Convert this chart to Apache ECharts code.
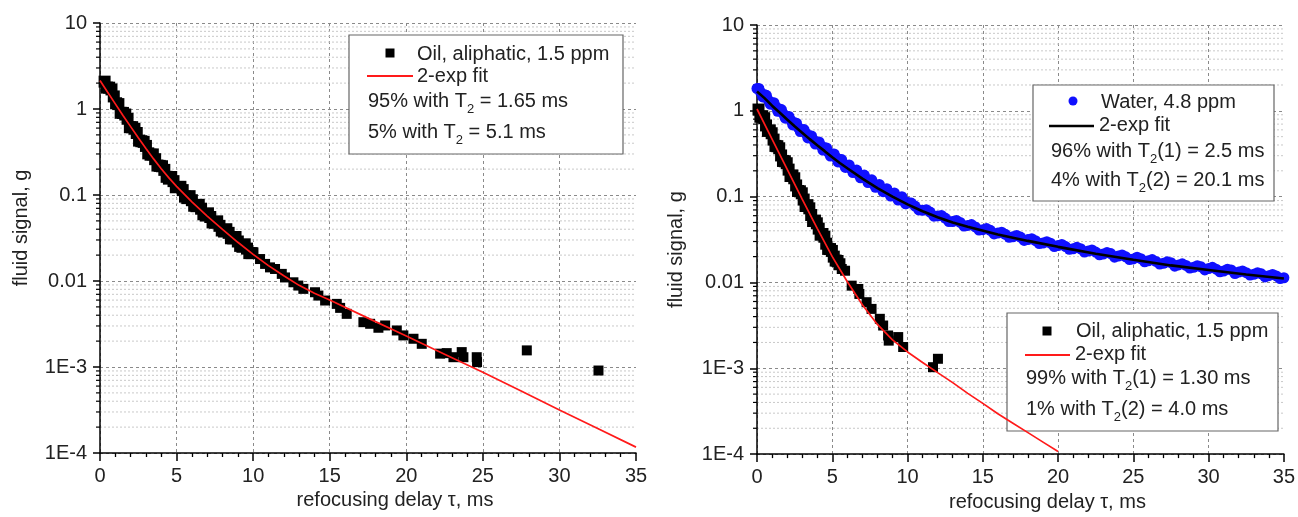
<!DOCTYPE html>
<html><head><meta charset="utf-8">
<script src="https://cdn.jsdelivr.net/npm/echarts@6/dist/echarts.min.js"></script>
<style>html,body{margin:0;padding:0;background:#fff}#c{width:1298px;height:517px}</style>
</head><body><div id="c"></div><script>
const FONT = "'Liberation Sans', Arial, Helvetica, sans-serif";
const TXT = '#222';
const FS = 20;

// ---- tick labels ----
const yTickLabels = ['1E-4', '1E-3', '0.01', '0.1', '1', '10'];
const yMinorTicks = [2e-4,3e-4,4e-4,5e-4,6e-4,7e-4,8e-4,9e-4,
  2e-3,3e-3,4e-3,5e-3,6e-3,7e-3,8e-3,9e-3,
  0.02,0.03,0.04,0.05,0.06,0.07,0.08,0.09,
  0.2,0.3,0.4,0.5,0.6,0.7,0.8,0.9,
  2,3,4,5,6,7,8,9];

// ---- left panel: oil, aliphatic 1.5 ppm ----
const leftOilA = [[0.3,2.08],[0.6,1.77],[0.9,1.40],[1.2,1.14],[1.5,0.90],[1.8,0.77],[2.1,0.615],[2.4,0.526],
  [2.7,0.422],[3.0,0.372],[3.3,0.294],[3.6,0.261],[3.9,0.218],[4.2,0.196],[4.5,0.155],[4.8,0.145],[5.1,0.124],
  [5.4,0.114],[5.7,0.092],[6.0,0.087],[6.3,0.0741],[6.6,0.0693],[6.9,0.0577],[7.2,0.0555],[7.5,0.0476],
  [7.8,0.0438],[8.1,0.0376],[8.4,0.0363],[8.7,0.0313],[9.0,0.0288],[9.3,0.025],[9.6,0.0238],[9.9,0.0211]];
const leftOilB = [[0.45,1.773],[0.75,1.689],[1.05,1.166],[1.35,0.903],[1.65,0.863],[1.95,0.614],[2.25,0.589],
  [2.55,0.429],[2.85,0.4145],[3.15,0.305],[3.45,0.2965],[3.75,0.220],[4.05,0.216],[4.35,0.1627],[4.65,0.162],
  [4.95,0.123],[5.25,0.1245],[5.55,0.0957],[5.85,0.0970],[6.15,0.0750],[6.45,0.0769],[6.75,0.0597],[7.05,0.0612],
  [7.35,0.0480],[7.65,0.0494],[7.95,0.0387],[8.25,0.0400],[8.55,0.0314],[8.85,0.0325],[9.15,0.0256],[9.45,0.0267],
  [9.75,0.0211]];
const leftOilC = [[10.02,0.0215],[10.45,0.0180],[10.78,0.0158],[11.10,0.0144],[11.43,0.0138],[11.87,0.0121],[12.08,0.0110],
  [12.63,0.00966],[12.95,0.00885],[13.28,0.0081],[14.04,0.0074],[14.26,0.00677],[14.70,0.00593],[15.46,0.00542],
  [15.68,0.00487],[16.11,0.00415],[17.20,0.00332],[17.64,0.00318],[18.18,0.00286],[18.62,0.00304],[19.38,0.00266],
  [19.81,0.00233],[20.47,0.00213],[21.01,0.00186],[22.21,0.00143],[22.64,0.00145],[23.08,0.0013],[23.62,0.00149],
  [23.73,0.0013],[24.60,0.0013],[24.62,0.00114],[27.87,0.00156],[32.55,0.00091]];
const leftFit = [[0,2.14],[0.5,1.567],[1,1.148],[1.5,0.841],[2,0.624],[2.5,0.462],[3,0.347],[3.5,0.263],[4,0.202],
  [4.5,0.158],[5,0.126],[6,0.0832],[7,0.0569],[8,0.0398],[9,0.0282],[10,0.0204],[11,0.0151],[12,0.0115],[13,0.0089],
  [14,0.0072],[15,0.0060],[17.5,0.0037],[20,0.00229],[22.5,0.00141],[25,0.00087],[27.5,0.000525],[30,0.000316],
  [32.5,0.000193],[35,0.000117]];

// ---- right panel: water 4.8 ppm ----
const waterA = [[0,1.82],[0.25,1.64],[0.5,1.54],[0.75,1.33],[1,1.245],[1.25,1.122],[1.5,1.047],[1.75,0.923],[2,0.861],
  [2.25,0.776],[2.5,0.724],[2.75,0.634],[3,0.603],[3.25,0.546],[3.5,0.513],[3.75,0.457],[4,0.431],[4.25,0.394],
  [4.5,0.372],[4.75,0.327],[5,0.313],[5.25,0.286],[5.5,0.271],[5.75,0.2406],[6,0.229],[6.25,0.211],[6.5,0.2018],
  [6.75,0.182],[7,0.1738],[7.25,0.1612],[7.5,0.155],[7.75,0.1404],[8,0.135],[8.25,0.126],[8.5,0.120],[8.75,0.111],
  [9,0.107],[9.25,0.1006],[9.5,0.0966],[9.75,0.0886],[10,0.0861],
  [10.5,0.0776],[11,0.0692],[11.5,0.0661],[12,0.0596],[12.5,0.0562],[13,0.0513],[13.5,0.0501],[14,0.0462],
  [14.5,0.0444],[15,0.0412],[15.5,0.0405],[16,0.0376],[16.5,0.0364],[17,0.0341],[17.5,0.0338],[18,0.0316],
  [18.5,0.0307],[19,0.0288],[19.5,0.0287],[20,0.0269],[20.5,0.0262],[21,0.0247],[21.5,0.0247],[22,0.0232],
  [22.5,0.0226],[23,0.0214],[23.5,0.0217],[24,0.0203],[24.5,0.0199],[25,0.0188],[25.5,0.0189],[26,0.0179],
  [26.5,0.0176],[27,0.0167],[27.5,0.0170],[28,0.0160],[28.5,0.0158],[29,0.0150],[29.5,0.0152],[30,0.0145],
  [30.5,0.0143],[31,0.0136],[31.5,0.0140],[32,0.0132],[32.5,0.0130],[33,0.01245],[33.5,0.0126],[34,0.0120],
  [34.5,0.0119],[35,0.01135]];
const waterB = [[0.125,1.822],[0.375,1.452],[0.625,1.516],[0.875,1.194],[1.125,1.245],[1.375,0.9886],[1.625,1.035],
  [1.875,0.822],[2.125,0.861],[2.375,0.684],[2.625,0.718],[2.875,0.5736],[3.125,0.604],[3.375,0.4828],[3.625,0.5098],
  [3.875,0.4097],[4.125,0.4339],[4.375,0.3487],[4.625,0.3693],[4.875,0.2969],[5.125,0.3148],[5.375,0.2540],
  [5.625,0.2705],[5.875,0.2192],[6.125,0.2344],[6.375,0.1905],[6.625,0.2042],[6.875,0.1660],[7.125,0.1783],
  [7.375,0.1458],[7.625,0.1571],[7.875,0.1284],[8.125,0.1388],[8.375,0.1142],[8.625,0.1237],[8.875,0.1017],
  [9.125,0.1106],[9.375,0.0914],[9.625,0.0997],[9.875,0.0825],
  [10.25,0.0841],[10.75,0.0700],[11.25,0.0704],[11.75,0.0592],[12.25,0.0603],[12.75,0.0513],[13.25,0.0528],
  [13.75,0.0455],[14.25,0.0472],[14.75,0.0408],[15.25,0.0425],[15.75,0.0368],[16.25,0.0385],[16.75,0.0336],
  [17.25,0.0353],[17.75,0.0309],[18.25,0.0324],[18.75,0.0284],[19.25,0.0299],[19.75,0.0262],[20.25,0.0277],
  [20.75,0.0243],[21.25,0.0257],[21.75,0.0226],[22.25,0.0239],[22.75,0.0210],[23.25,0.0223],[23.75,0.0197],
  [24.25,0.0209],[24.75,0.0185],[25.25,0.0197],[25.75,0.0174],[26.25,0.0185],[26.75,0.0164],[27.25,0.0174],
  [27.75,0.0155],[28.25,0.0165],[28.75,0.0147],[29.25,0.0157],[29.75,0.0140],[30.25,0.0150],[30.75,0.0133],
  [31.25,0.0143],[31.75,0.0127],[32.25,0.0136],[32.75,0.0122],[33.25,0.0130],[33.75,0.0116],[34.25,0.0124],
  [34.75,0.0111]];
const waterFit = [[0,1.68],[0.5,1.405],[1,1.148],[1.5,0.955],[2,0.794],[2.5,0.661],[3,0.556],[3.5,0.468],[4,0.398],
  [4.5,0.339],[5,0.288],[5.5,0.247],[6,0.214],[7,0.162],[8,0.126],[9,0.100],[10,0.0813],[11,0.0676],[12,0.0575],
  [13,0.0501],[14,0.0447],[16,0.0363],[18,0.0305],[20,0.0260],[22.5,0.0216],[25,0.0184],[27.5,0.0158],[30,0.0140],
  [32.5,0.0124],[35,0.0111]];

// ---- right panel: oil, aliphatic 1.5 ppm ----
const rightOilA = [[0.1,1.035],[0.35,0.866],[0.6,0.676],[0.85,0.592],[1.1,0.462],[1.35,0.387],[1.6,0.302],[1.85,0.2585],
  [2.1,0.2065],[2.35,0.1768],[2.6,0.135],[2.85,0.1155],[3.1,0.0925],[3.35,0.0796],[3.6,0.0611],[3.85,0.0526],
  [4.1,0.0424],[4.35,0.0367],[4.6,0.0283],[4.85,0.0245],[5.1,0.0200],[5.35,0.0178],[5.63,0.01435],[5.85,0.0137],
  [6.29,0.00918],[6.73,0.0084],[6.8,0.00735],[7.28,0.00589],[7.61,0.00492],[8.16,0.00377],[8.38,0.00315],
  [8.71,0.00241],[8.75,0.0021],[9.38,0.00231],[9.71,0.00177],[11.69,0.00103],[12.02,0.00129]];
const rightOilB = [[0.225,0.853],[0.475,0.820],[0.725,0.583],[0.975,0.548],[1.225,0.390],[1.475,0.366],[1.725,0.2606],
  [1.975,0.245],[2.225,0.174],[2.475,0.1637],[2.725,0.1164],[2.975,0.1094],[3.225,0.0778],[3.475,0.0731],
  [3.725,0.0520],[3.975,0.0489],[4.225,0.0360],[4.475,0.0341],[4.725,0.0246],[4.975,0.0233],[5.225,0.0180],
  [5.475,0.0163]];
const rightOilFit = [[0,1.05],[1,0.468],[2,0.209],[3,0.0933],[4,0.0427],[5,0.0200],[6,0.0102],[7,0.0055],[8,0.00324],
  [9,0.00214],[10,0.00155],[11,0.00117],[12,0.00089],[13,0.00068],[14,0.00051],[15,0.00039],[16,0.000295],
  [17,0.000229],[18,0.000178],[19,0.000138],[20,0.000107]];

const RED = '#ff1a1a', BLUE = '#1010ff';

function xAxis(i) {
  return {
    type: 'value', gridIndex: i, min: 0, max: 35, interval: 5,
    axisLine: { onZero: false, lineStyle: { color: '#000', width: 1.5 } },
    axisTick: { length: 8, lineStyle: { color: '#000', width: 1.5 } },
    minorTick: { show: true, splitNumber: 5, length: 4, lineStyle: { color: '#000', width: 1.3 } },
    axisLabel: { fontSize: FS, color: TXT, fontFamily: FONT, margin: 13 },
    splitLine: { show: true, showMaxLine: false, lineStyle: { color: '#8a8a8a', type: [3, 3], width: 1 } },
    name: 'refocusing delay τ, ms', nameLocation: 'middle', nameGap: 36,
    nameTextStyle: { fontSize: FS, color: TXT, fontFamily: FONT, padding: [0, 0, 0, 54] }
  };
}
function yAxis(i, gap, pad) {
  return {
    type: 'log', logBase: 10, gridIndex: i, min: 1e-4, max: 10, splitNumber: 5,
    axisLine: { show: true, lineStyle: { color: '#000', width: 1.5 } },
    axisTick: { show: true, length: 7, lineStyle: { color: '#000', width: 1.5 } },
    axisLabel: { fontSize: FS, color: TXT, fontFamily: FONT, margin: 13,
      formatter: v => yTickLabels[Math.round(Math.log10(v)) + 4] },
    splitLine: { show: true, lineStyle: { color: '#8a8a8a', type: [3, 3], width: 1 } },
    name: 'fluid signal, g', nameLocation: 'middle', nameGap: gap,
    nameTextStyle: { fontSize: FS, color: TXT, fontFamily: FONT, padding: pad }
  };
}
function minorSeries(i) {
  return {
    type: 'custom', xAxisIndex: i, yAxisIndex: i, z: 0, silent: true, clip: false,
    data: yMinorTicks.map(v => [0, v]), encode: { x: 0, y: 1 },
    renderItem: (params, api) => {
      const v = api.value(1);
      const a = api.coord([0, v]);
      const b = api.coord([35, v]);
      return { type: 'group', children: [
        { type: 'line', shape: { x1: a[0], y1: a[1], x2: b[0], y2: b[1] },
          style: { stroke: '#c9c9c9', lineDash: [2, 2], lineWidth: 1 } },
        { type: 'line', shape: { x1: a[0] - 4, y1: a[1], x2: a[0], y2: a[1] },
          style: { stroke: '#000', lineWidth: 1.2 } }
      ] };
    }
  };
}
// ---- legend drawing helpers ----
function box(x, y, w, h) {
  return { type: 'rect', z: 1, shape: { x: x, y: y, width: w, height: h },
    style: { fill: '#fff', stroke: '#666', lineWidth: 1.2 } };
}
function label(x, y, text) {
  return { type: 'text', z: 10, x: x, y: y,
    style: { text: text, fill: TXT, fontSize: FS, fontFamily: FONT, lineHeight: 30,
      verticalAlign: 'middle', align: 'left',
      rich: { s: { fontSize: 13, fontFamily: FONT, fill: TXT, verticalAlign: 'bottom' } } } };
}
function sq(cx, cy) {
  return { type: 'rect', z: 10, shape: { x: cx - 4.5, y: cy - 4.5, width: 9, height: 9 }, style: { fill: '#000' } };
}
function dot(cx, cy) {
  return { type: 'circle', z: 10, shape: { cx: cx, cy: cy, r: 4.5 }, style: { fill: BLUE } };
}
function seg(x1, x2, y, color, w) {
  return { type: 'line', z: 10, shape: { x1: x1, y1: y, x2: x2, y2: y }, style: { stroke: color, lineWidth: w } };
}

const option = {
  animation: false,
  backgroundColor: '#fff',
  grid: [
    { left: 100, top: 23, width: 536, height: 430 },
    { left: 757, top: 25, width: 529, height: 430 }
  ],
  xAxis: [xAxis(0), xAxis(1)],
  yAxis: [yAxis(0, 69, [0, 0, 0, 20]), yAxis(1, 71, [0, 20, 0, 0])],
  graphic: [
    box(349, 35, 274, 119),
    sq(390, 53), label(417, 54, 'Oil, aliphatic, 1.5 ppm'),
    seg(367, 413, 76, RED, 2), label(417, 76, '2-exp fit'),
    label(368, 101, '95% with T{s|2} = 1.65 ms'),
    label(368, 132, '5% with T{s|2} = 5.1 ms'),

    box(1033, 85, 241, 116),
    dot(1073, 101), label(1101, 102, 'Water, 4.8 ppm'),
    seg(1049, 1094, 126, '#000', 2.6), label(1099, 125.5, '2-exp fit'),
    label(1051, 151, '96% with T{s|2}(1) = 2.5 ms'),
    label(1051, 180, '4% with T{s|2}(2) = 20.1 ms'),

    box(1007, 313, 271, 118),
    sq(1047, 331), label(1076, 331.5, 'Oil, aliphatic, 1.5 ppm'),
    seg(1025, 1070, 355, RED, 2), label(1075, 354, '2-exp fit'),
    label(1026, 378, '99% with T{s|2}(1) = 1.30 ms'),
    label(1026, 409, '1% with T{s|2}(2) = 4.0 ms')
  ],
  series: [
    minorSeries(0), minorSeries(1),
    { name: 'Oil, aliphatic, 1.5 ppm', type: 'scatter', xAxisIndex: 0, yAxisIndex: 0,
      data: leftOilA.concat(leftOilB), z: 2,
      symbol: 'rect', symbolSize: 12, itemStyle: { color: '#000', opacity: 1 } },
    { name: 'Oil, aliphatic, 1.5 ppm', type: 'scatter', xAxisIndex: 0, yAxisIndex: 0,
      data: leftOilC, z: 2,
      symbol: 'rect', symbolSize: 10, itemStyle: { color: '#000', opacity: 1 } },
    { name: '2-exp fit', type: 'line', xAxisIndex: 0, yAxisIndex: 0, data: leftFit, z: 4,
      symbol: 'none', showSymbol: false, smooth: false,
      lineStyle: { color: RED, width: 1.7 }, itemStyle: { color: RED } },
    { name: 'Water, 4.8 ppm', type: 'scatter', xAxisIndex: 1, yAxisIndex: 1,
      data: waterA.concat(waterB), z: 2,
      symbol: 'circle', symbolSize: 11, itemStyle: { color: BLUE, opacity: 1 } },
    { name: '2-exp fit (water)', type: 'line', xAxisIndex: 1, yAxisIndex: 1, data: waterFit, z: 4,
      symbol: 'none', showSymbol: false, smooth: false,
      lineStyle: { color: '#000', width: 2.6 }, itemStyle: { color: '#000' } },
    { name: 'Oil, aliphatic, 1.5 ppm (right)', type: 'scatter', xAxisIndex: 1, yAxisIndex: 1,
      data: rightOilA.concat(rightOilB), z: 3,
      symbol: 'rect', symbolSize: v => (v[0] < 5.5 ? 12 : 10), itemStyle: { color: '#000', opacity: 1 } },
    { name: '2-exp fit (oil, right)', type: 'line', xAxisIndex: 1, yAxisIndex: 1, data: rightOilFit, z: 5,
      symbol: 'none', showSymbol: false, smooth: false,
      lineStyle: { color: RED, width: 1.7 }, itemStyle: { color: RED } }
  ]
};
const chart = echarts.init(document.getElementById('c'), null, { renderer: 'canvas' });
chart.setOption(option);
</script></body></html>
